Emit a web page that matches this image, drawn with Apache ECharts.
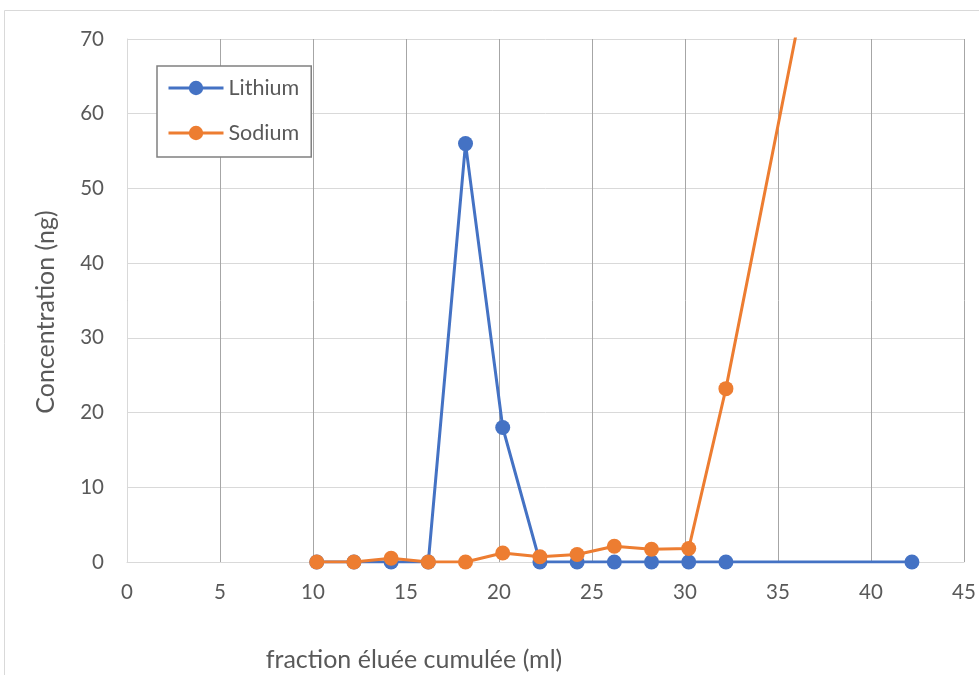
<!DOCTYPE html>
<html>
<head>
<meta charset="utf-8">
<script src="https://cdn.jsdelivr.net/npm/echarts@6/dist/echarts.min.js"></script>
<style>html,body{margin:0;padding:0;background:#fff}#c{width:979px;height:675px}</style>
</head>
<body>
<div id="c"></div>
<script>
// Data
const xValues = [10.2, 12.2, 14.2, 16.2, 18.2, 20.2, 22.2, 24.2, 26.2, 28.2, 30.2, 32.2, 42.2];
const lithium = [0, 0, 0, 0, 56, 18, 0, 0, 0, 0, 0, 0, 0];
const sodium  = [0, 0, 0.5, 0, 0, 1.2, 0.7, 1.0, 2.1, 1.7, 1.8, 23.2, 149];
const seriesNames = ['Lithium', 'Sodium'];
const xTitle = 'fraction éluée cumulée (ml)';
const yTitle = 'Concentration (ng)';

const FONT = 'Lato, "Liberation Sans", sans-serif';
const TXT = '#595959';
const pairs = (xs, ys) => xs.map((x, i) => [x, ys[i]]);

const chart = echarts.init(document.getElementById('c'), null, {renderer: 'canvas'});
chart.setOption({
  animation: false,
  backgroundColor: '#fff',
  grid: {left: 127, right: 15, top: 39, bottom: 113, containLabel: false},
  xAxis: {
    type: 'value', min: 0, max: 45, interval: 5,
    axisLine: {show: true, onZero: false, lineStyle: {color: '#d9d9d9', width: 1}},
    axisTick: {show: false},
    axisLabel: {color: TXT, fontFamily: FONT, fontSize: 20.5, margin: 20},
    splitLine: {show: true, lineStyle: {color: '#a6a6a6', width: 1}}
  },
  yAxis: {
    type: 'value', min: 0, max: 70, interval: 10,
    axisLine: {show: true, lineStyle: {color: '#d9d9d9', width: 1}},
    axisTick: {show: false},
    axisLabel: {color: TXT, fontFamily: FONT, fontSize: 20.5, margin: 23},
    splitLine: {show: true, lineStyle: {color: '#d9d9d9', width: 1}}
  },
  legend: {
    data: seriesNames,
    orient: 'vertical',
    left: 157, top: 66,
    padding: [11, 12, 13, 10],
    itemWidth: 55, itemHeight: 18, itemGap: 23,
    borderColor: '#808080', borderWidth: 1.5,
    backgroundColor: '#fff',
    lineStyle: {width: 3},
    textStyle: {color: TXT, fontFamily: FONT, fontSize: 21.5, lineHeight: 22}
  },
  series: [
    {
      name: seriesNames[0], type: 'line', data: pairs(xValues, lithium),
      symbol: 'circle', symbolSize: 15, clip: true,
      lineStyle: {color: '#4472C4', width: 3},
      itemStyle: {color: '#4472C4'}, z: 2
    },
    {
      name: seriesNames[1], type: 'line', data: pairs(xValues, sodium),
      symbol: 'circle', symbolSize: 15, clip: true,
      lineStyle: {color: '#ED7D31', width: 3},
      itemStyle: {color: '#ED7D31'}, z: 3
    }
  ],
  graphic: [
    {type: 'rect', shape: {x: 4.5, y: 10.5, width: 1000, height: 700}, style: {fill: 'none', stroke: '#d9d9d9', lineWidth: 1}, silent: true, z: -1},
    {type: 'text', x: 414, y: 660, style: {text: xTitle, fill: TXT, font: '25px ' + FONT, textAlign: 'center', textVerticalAlign: 'middle'}},
    {type: 'text', x: 46, y: 312, rotation: Math.PI / 2, style: {text: yTitle, fill: TXT, font: '25px ' + FONT, textAlign: 'center', textVerticalAlign: 'middle'}}
  ]
});
</script>
</body>
</html>
